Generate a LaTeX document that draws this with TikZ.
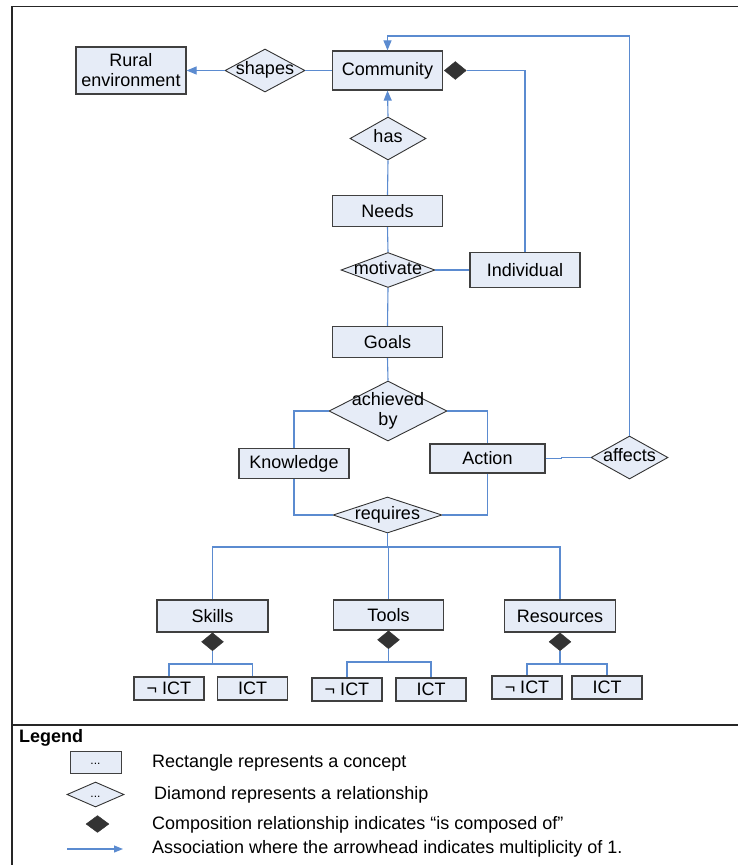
\documentclass[tikz,border=0pt]{standalone}
\usepackage{fontspec}
\setmainfont{Liberation Sans}
\usetikzlibrary{positioning,arrows.meta,shapes.geometric,calc}
\definecolor{linkblue}{HTML}{5B8BD0}
\definecolor{conceptfill}{HTML}{E6ECF7}
\definecolor{compgray}{HTML}{333333}
% zero-width label, so that the diamond keeps the size it is given
\newcommand{\zw}[1]{\makebox[0pt]{\begin{tabular}{@{}c@{}}#1\end{tabular}}}

\begin{document}
\begin{tikzpicture}[
  x=1pt, y=-1pt,
  font=\fontsize{18}{20}\selectfont,
  box/.style={draw=black!75, line width=1.2pt, fill=conceptfill,
    inner sep=0pt, align=center},
  concept/.style={box, minimum width=110pt, minimum height=31pt},
  small/.style={box, minimum width=70pt, minimum height=23pt},
  rel/.style 2 args={diamond, draw=black!80, line width=0.9pt,
    fill=conceptfill, inner sep=0pt, minimum width=#1, minimum height=#2},
  comp/.style={diamond, draw=compgray, fill=compgray, inner sep=0pt,
    minimum width=22pt, minimum height=18pt},
  link/.style={draw=linkblue, line width=1.1pt},
  assoc/.style={link, -{Triangle[length=10pt, width=8pt]}},
  frame/.style={draw=black!85, line width=1.6pt},
  legtext/.style={anchor=west, inner sep=0pt},
]
\useasboundingbox (0,0) rectangle (738,865);

% ---- upper part: community, needs and goals ------------------------------
\node[concept, minimum height=47pt] (rural) at (131,70.5) {Rural\\environment};
\node[rel={80pt}{43pt}] (shapes) at (265,70.5) {\zw{shapes}};
\node[concept, minimum height=39pt] (community) at (387.5,70.5) {Community};
\node[comp, right=1pt of community] (ccomm) {};
\node[rel={76pt}{43pt}] (has) at (388,138.5) {\zw{has}};
\node[concept] (needs) at (387.5,211) {Needs};
\node[rel={94pt}{35pt}] (motivate) at (388,270) {\zw{motivate}};
\node[concept, minimum height=35pt] (individual) at (525,270) {Individual};
\node[concept] (goals) at (387.5,342) {Goals};
\node[rel={118pt}{60pt}] (achieved) at (388,411) {\zw{achieved\\by}};
\node[concept, minimum height=30pt] (knowledge) at (294,463.5) {Knowledge};
\node[concept, minimum width=115pt, minimum height=29pt] (action)
  at (487.5,458.5) {Action};
\node[rel={77pt}{43pt}] (affects) at (629.5,457.5) {\zw{affects}};
\node[rel={109pt}{36pt}] (requires) at (387.5,515) {\zw{requires}};

\draw[assoc] (shapes.west) -- (rural.east);
\draw[link] (community.west) -- (shapes.east);
\draw[assoc] (has.north) -- (community.south);
\foreach \a/\b in {needs/has, motivate/needs, goals/motivate, achieved/goals}
  \draw[link] (\a.north) -- (\b.south);
\draw[link] (motivate.east) -- (individual.west);
\draw[link] (individual.north) |- (ccomm.east);
\draw[link] (achieved.west) -| (knowledge.north);
\draw[link] (achieved.east) -| (action.north);
\draw[link] (knowledge.south) |- (requires.west);
\draw[link] (action.south) |- (requires.east);
\draw[link] (action.east) -- ++(16,0) |- (affects.west);
\coordinate (top) at (0,36);
\draw[assoc] (affects.north) -- (affects.north |- top) -| (community.north);

% ---- lower part: what the action requires --------------------------------
\node[concept, minimum width=111pt, minimum height=32pt] (skills)
  at (212.5,616) {Skills};
\node[concept, minimum height=30pt] (tools) at (388.5,615) {Tools};
\node[concept, minimum width=111pt, minimum height=32pt] (resources)
  at (560,616) {Resources};
\node[comp, below=0pt of skills] (cskills) {};
\node[comp, below=0pt of tools] (ctools) {};
\node[comp, below=0pt of resources] (cres) {};

\node[small] (nskills) at (169,688.5) {¬ ICT};
\node[small] (iskills) at (252.5,688.5) {ICT};
\node[small] (ntools) at (347,689.5) {¬ ICT};
\node[small] (itools) at (431,689.5) {ICT};
\node[small] (nres) at (527,687.5) {¬ ICT};
\node[small] (ires) at (607,687.5) {ICT};

\coordinate (bus) at (0,547);
\draw[link] (requires.south) -- (requires.south |- bus);
\foreach \c in {skills, tools, resources}
  \draw[link] (requires.south |- bus) -| (\c.north);
\foreach \c/\n/\i in {cskills/nskills/iskills, ctools/ntools/itools,
    cres/nres/ires} {
  \draw[link] (\c.south) -- ++(0,13) coordinate (\c-j);
  \draw[link] (\n.north) |- (\c-j) -| (\i.north);
}

% ---- frame and legend ----------------------------------------------------
\draw[frame] (738,6.5) -- (12,6.5) -- (12,865);
\draw[frame] (12,725) -- (738,725);
\node[legtext, font=\fontsize{18}{20}\selectfont\bfseries] (legend)
  at (19,738) {Legend};
\node[box, line width=1pt, minimum width=51pt, minimum height=22pt,
  font=\fontsize{12}{14}\selectfont] (legrect) at (95.5,762) {\strut...};
\node[rel={57pt}{25pt}, font=\fontsize{12}{14}\selectfont] (legdia)
  at (95.5,794.5) {\zw{\strut...}};
\node[comp, minimum width=23pt, minimum height=17pt] (legcomp)
  at (97.5,824) {};
\coordinate (legA) at (67,849);
\coordinate (legB) at (123,849);
\draw[link, -{Triangle[length=9pt, width=7pt]}] (legA) -- (legB);
\node[legtext] (trect) at (152,763) {Rectangle represents a concept};
\node[legtext] (tdia) at (154,795) {Diamond represents a relationship};
\node[legtext] (tcomp) at (152,825)
  {Composition relationship indicates “is composed of”};
\node[legtext] (tassoc) at (152,849)
  {Association where the arrowhead indicates multiplicity of 1.};

\end{tikzpicture}
\end{document}
